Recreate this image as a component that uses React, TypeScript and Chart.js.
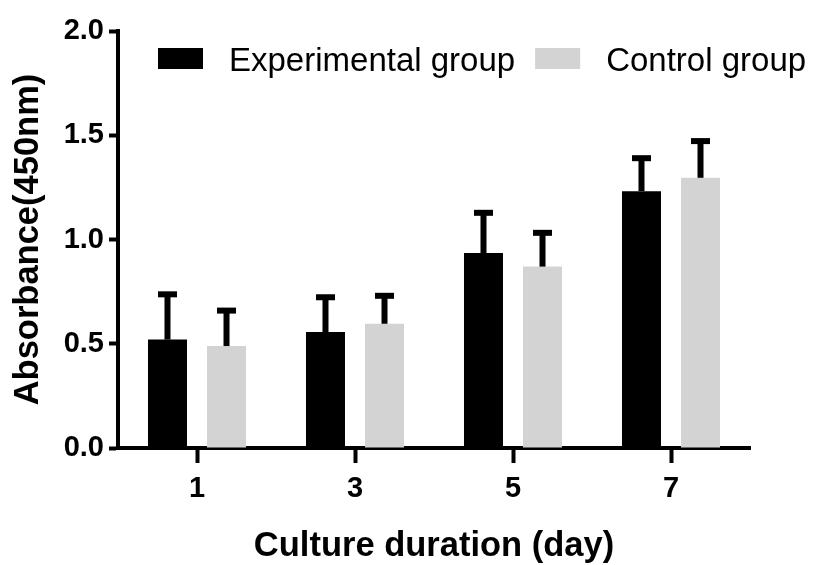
import React, { useEffect, useRef } from "react";
import { Chart, registerables } from "chart.js";

Chart.register(...registerables);

const categories = ["1", "3", "5", "7"];
const seriesNames = ["Experimental group", "Control group"];
const experimentalMeans = [0.52, 0.556, 0.935, 1.232];
const experimentalSD = [0.217, 0.167, 0.193, 0.158];
const controlMeans = [0.489, 0.596, 0.87, 1.296];
const controlSD = [0.17, 0.134, 0.162, 0.176];
const yTicks = [0, 0.5, 1.0, 1.5, 2.0];
const xTitle = "Culture duration (day)";
const yTitle = "Absorbance(450nm)";

const FONT = "'Liberation Sans', Arial, sans-serif";
const BLACK = "#000000";
const GRAY = "#d3d3d3";

const errorBarPlugin = {
  id: "errorBars",
  afterDatasetsDraw(chart: any) {
    const ctx = chart.ctx;
    const yScale = chart.scales.y;
    const sds = [experimentalSD, controlSD];
    chart.data.datasets.forEach((ds: any, i: number) => {
      const meta = chart.getDatasetMeta(i);
      meta.data.forEach((el: any, j: number) => {
        const v = ds.data[j];
        const top = yScale.getPixelForValue(v);
        const cap = yScale.getPixelForValue(v + sds[i][j]);
        ctx.save();
        ctx.fillStyle = BLACK;
        ctx.fillRect(el.x - 3, cap, 6, top - cap);
        ctx.fillRect(el.x - 9.5, cap - 3, 19, 6);
        ctx.restore();
      });
    });
  },
};

const legendPlugin = {
  id: "customLegend",
  afterDraw(chart: any) {
    const ctx = chart.ctx;
    ctx.save();
    ctx.font = `33px ${FONT}`;
    ctx.textBaseline = "alphabetic";
    ctx.textAlign = "left";
    let x = 158;
    const boxY = 48;
    const boxW = 45;
    const boxH = 21;
    chart.data.datasets.forEach((ds: any) => {
      ctx.fillStyle = ds.backgroundColor;
      ctx.fillRect(x, boxY, boxW, boxH);
      x += boxW + 26;
      ctx.fillStyle = BLACK;
      ctx.fillText(ds.label, x, boxY + boxH + 2);
      x += ctx.measureText(ds.label).width + 20;
    });
    ctx.restore();
  },
};

export default function App() {
  const ref = useRef<HTMLCanvasElement>(null);

  useEffect(() => {
    if (!ref.current) return;
    const chart = new Chart(ref.current, {
      type: "bar",
      data: {
        labels: categories,
        datasets: [
          {
            label: seriesNames[0],
            data: experimentalMeans,
            backgroundColor: BLACK,
            borderWidth: 0,
          },
          {
            label: seriesNames[1],
            data: controlMeans,
            backgroundColor: GRAY,
            borderWidth: 0,
          },
        ],
      },
      options: {
        responsive: false,
        animation: false,
        devicePixelRatio: 1,
        layout: { padding: { top: 31, right: 68, left: 0, bottom: 0 } },
        datasets: {
          bar: { categoryPercentage: 0.747, barPercentage: 0.661 },
        },
        plugins: {
          legend: { display: false },
          tooltip: { enabled: false },
        },
        scales: {
          x: {
            type: "category",
            offset: true,
            grid: {
              display: true,
              drawOnChartArea: false,
              drawTicks: true,
              tickLength: 15,
              tickWidth: 4,
              tickColor: BLACK,
              offset: false,
            },
            border: { display: true, width: 4, color: BLACK },
            ticks: {
              color: BLACK,
              padding: 9,
              font: { family: FONT, size: 29, weight: "bold" },
            },
            title: {
              display: true,
              text: xTitle,
              color: BLACK,
              font: { family: FONT, size: 34.5, weight: "bold", lineHeight: 1 },
              padding: { top: 0, bottom: 1 },
            },
            afterFit(scale: any) {
              scale.height = 117;
            },
          },
          y: {
            min: 0,
            max: 2,
            grid: {
              display: true,
              drawOnChartArea: false,
              drawTicks: true,
              tickLength: 9,
              tickWidth: 4,
              tickColor: BLACK,
            },
            border: { display: true, width: 4, color: BLACK },
            afterBuildTicks(scale: any) {
              scale.ticks = yTicks.map((v) => ({ value: v }));
            },
            ticks: {
              color: BLACK,
              padding: 5,
              font: { family: FONT, size: 29, weight: "bold" },
              callback: (v: any) => Number(v).toFixed(1),
            },
            title: {
              display: true,
              text: yTitle,
              color: BLACK,
              font: { family: FONT, size: 34.5, weight: "bold", lineHeight: 1 },
              padding: { top: 11, bottom: 0 },
            },
            afterFit(scale: any) {
              scale.width = 118;
            },
          },
        },
      },
      plugins: [errorBarPlugin, legendPlugin],
    });
    return () => chart.destroy();
  }, []);

  return (
    <div
      style={{
        position: "absolute",
        left: 0,
        top: 0,
        width: 818,
        height: 565,
        background: "#ffffff",
      }}
    >
      <canvas ref={ref} width={818} height={565} style={{ display: "block" }} />
    </div>
  );
}
